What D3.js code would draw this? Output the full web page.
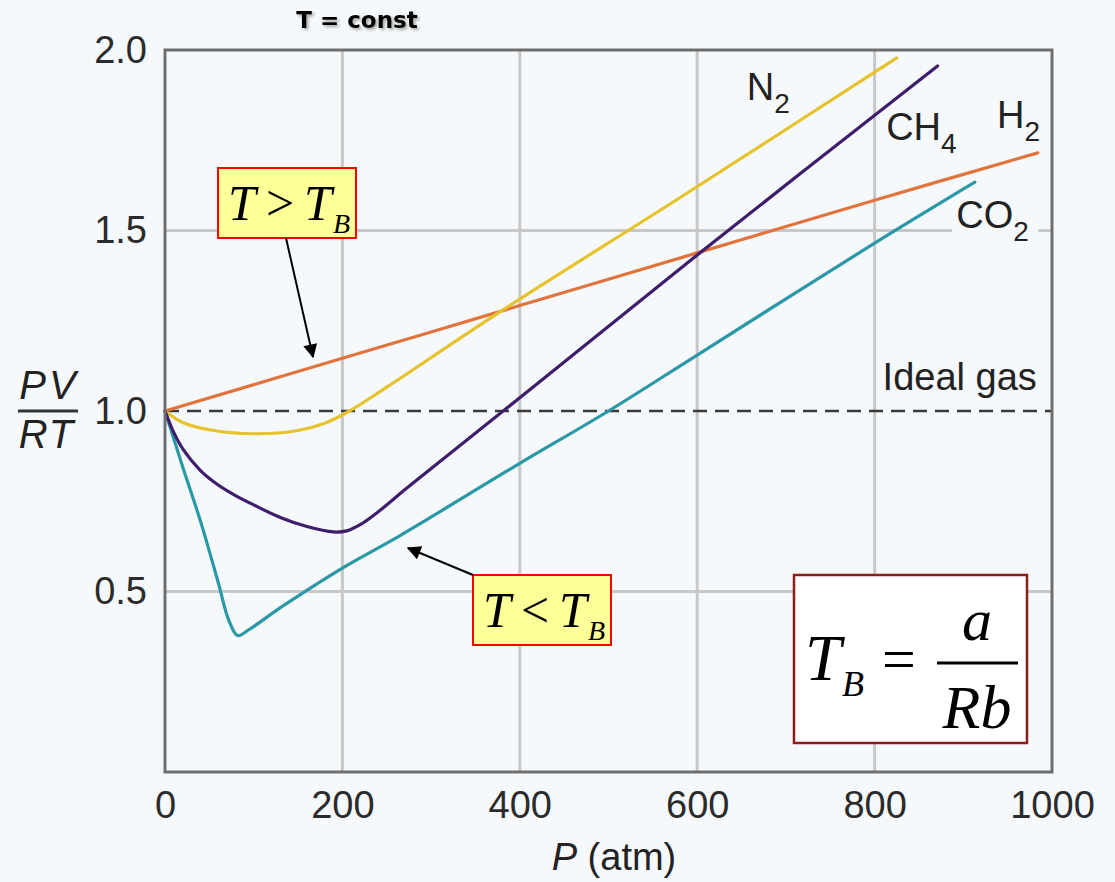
<!DOCTYPE html>
<html>
<head>
<meta charset="utf-8">
<script src="https://cdn.jsdelivr.net/npm/d3@7"></script>
<style>
  html, body { margin: 0; padding: 0; background: #f6f9fb; }
  svg { display: block; }
  .tick text { font-family: "Liberation Sans", Arial, sans-serif; font-size: 38px; fill: #2b2b2b; }
  .sans { font-family: "Liberation Sans", Arial, sans-serif; fill: #222; }
  .serif { font-family: "Liberation Serif", "Times New Roman", serif; fill: #000; }
</style>
</head>
<body>
<svg id="chart" width="1115" height="882"></svg>
<script>
// axis ticks
const pressureTicks = [0, 200, 400, 600, 800, 1000];
const ratioTicks = [0.5, 1.0, 1.5, 2.0];
const gridP = [200, 400, 600, 800];
const gridZ = [0.5, 1.5];

// PV/RT against P (atm)
const h2P = [0, 200, 400, 600, 800, 984];
const h2Z = [1.0, 1.146, 1.292, 1.438, 1.584, 1.715];

const n2P = [0, 20, 50, 100, 150, 180, 208, 250, 381, 580, 825];
const n2Z = [1.0, 0.968, 0.948, 0.937, 0.946, 0.966, 1.0, 1.066, 1.28, 1.59, 1.978];

const co2P = [0, 20, 40, 60, 72, 82, 95, 133, 200, 265, 400, 500, 600, 800, 913];
const co2Z = [1.0, 0.845, 0.695, 0.525, 0.42, 0.378, 0.395, 0.46, 0.565, 0.655, 0.855, 1.0, 1.155, 1.465, 1.634];

const ch4P = [0, 10, 20, 40, 60, 80, 100, 130, 160, 190, 205, 220, 240, 272, 310, 400, 600, 871];
const ch4Z = [1.0, 0.94, 0.895, 0.835, 0.795, 0.765, 0.74, 0.705, 0.68, 0.665, 0.668, 0.685, 0.72, 0.785, 0.86, 1.037, 1.432, 1.956];

const series = [
    { p: h2P, z: h2Z, color: "#e0743c" },
    { p: n2P, z: n2Z, color: "#e6c22c" },
    { p: co2P, z: co2Z, color: "#2a98a6" },
    { p: ch4P, z: ch4Z, color: "#3e1d6c" }
];

const svg = d3.select("#chart");
const x = d3.scaleLinear().domain([0, 1000]).range([165, 1052]);
const y = d3.scaleLinear().domain([0, 2]).range([772, 50]);

// fond
svg.append("rect").attr("width", 1115).attr("height", 882).attr("fill", "#f6f9fb");

const defs = svg.append("defs");
defs.append("filter").attr("id", "shadow")
    .append("feDropShadow").attr("dx", 2).attr("dy", 2).attr("stdDeviation", 1.5)
    .attr("flood-color", "#000").attr("flood-opacity", 0.35);
defs.append("marker").attr("id", "head")
    .attr("viewBox", "0 0 10 10").attr("refX", 9).attr("refY", 5)
    .attr("markerWidth", 8).attr("markerHeight", 7).attr("markerUnits", "strokeWidth")
    .attr("orient", "auto")
    .append("path").attr("d", "M0,0 L10,5 L0,10 z").attr("fill", "#000");

// griglia
svg.append("g").selectAll("line").data(gridP).enter().append("line")
    .attr("x1", d => x(d)).attr("x2", d => x(d))
    .attr("y1", y(2)).attr("y2", y(0))
    .attr("stroke", "#c8c8c8").attr("stroke-width", 3);
svg.append("g").selectAll("line").data(gridZ).enter().append("line")
    .attr("x1", x(0)).attr("x2", x(1000))
    .attr("y1", d => y(d)).attr("y2", d => y(d))
    .attr("stroke", "#c8c8c8").attr("stroke-width", 3);

// ideal gas
svg.append("line")
    .attr("x1", x(0)).attr("x2", x(1000)).attr("y1", y(1)).attr("y2", y(1))
    .attr("stroke", "#3a3a3a").attr("stroke-width", 2.5).attr("stroke-dasharray", "14,8");

// curve
const line = d3.line().x(d => x(d[0])).y(d => y(d[1])).curve(d3.curveCatmullRom.alpha(0.5));
svg.append("g").selectAll("path").data(series).enter().append("path")
    .attr("d", s => line(s.p.map((p, i) => [p, s.z[i]])))
    .attr("fill", "none").attr("stroke", s => s.color).attr("stroke-width", 3.2)
    .attr("stroke-linejoin", "round").attr("stroke-linecap", "round");

// cornice
svg.append("rect")
    .attr("x", x(0)).attr("y", y(2)).attr("width", x(1000) - x(0)).attr("height", y(0) - y(2))
    .attr("fill", "none").attr("stroke", "#6e6e6e").attr("stroke-width", 3);

// assi
const xAxis = svg.append("g").attr("transform", `translate(0,${y(0)})`)
    .call(d3.axisBottom(x).tickValues(pressureTicks).tickSize(0).tickPadding(19).tickFormat(d3.format("d")));
const yAxis = svg.append("g").attr("transform", `translate(${x(0)},0)`)
    .call(d3.axisLeft(y).tickValues(ratioTicks).tickSize(0).tickPadding(18).tickFormat(d3.format(".1f")));
xAxis.select(".domain").remove();
yAxis.select(".domain").remove();

// titolo asse x
const xt = svg.append("text").attr("class", "sans").attr("x", 614).attr("y", 870)
    .attr("text-anchor", "middle").attr("font-size", 38);
xt.append("tspan").attr("font-style", "italic").text("P");
xt.append("tspan").text(" (atm)");

// PV / RT
svg.append("text").attr("class", "sans").attr("x", 49).attr("y", 399)
    .attr("text-anchor", "middle").attr("font-size", 40).attr("letter-spacing", 3)
    .attr("font-style", "italic").text("PV");
svg.append("line").attr("x1", 18).attr("x2", 78).attr("y1", 411).attr("y2", 411)
    .attr("stroke", "#333").attr("stroke-width", 3);
svg.append("text").attr("class", "sans").attr("x", 47).attr("y", 448)
    .attr("text-anchor", "middle").attr("font-size", 40).attr("letter-spacing", 2)
    .attr("font-style", "italic").text("RT");

// T = const
svg.append("text").attr("x", 357).attr("y", 28).attr("text-anchor", "middle")
    .attr("font-family", "'DejaVu Sans', Verdana, sans-serif").attr("font-weight", "bold")
    .attr("font-size", 23).attr("filter", "url(#shadow)").text("T = const");

// etichette delle curve
function gasLabel(px, pz, main, sub, mask) {
    const g = svg.append("g");
    if (mask) {
        g.append("rect").attr("x", x(px) - 4).attr("y", y(pz) - 30)
            .attr("width", 86).attr("height", 48).attr("fill", "#f6f9fb");
    }
    const t = g.append("text").attr("class", "sans").attr("x", x(px)).attr("y", y(pz))
        .attr("font-size", 38);
    t.append("tspan").text(main);
    t.append("tspan").attr("font-size", 28).attr("dy", 13).text(sub);
}
gasLabel(656, 1.861, "N", "2", false);
gasLabel(813, 1.751, "CH", "4", false);
gasLabel(938, 1.784, "H", "2", false);
gasLabel(892, 1.507, "CO", "2", true);

svg.append("text").attr("class", "sans").attr("x", x(809)).attr("y", y(1.058))
    .attr("font-size", 38).text("Ideal gas");

// riquadri gialli T > TB, T < TB
function tbBox(bx, by, sign) {
    const g = svg.append("g");
    g.append("rect").attr("x", bx).attr("y", by).attr("width", 138).attr("height", 70)
        .attr("fill", "#ffff99").attr("stroke", "#ff0000").attr("stroke-width", 2);
    const t = g.append("text").attr("class", "serif").attr("y", by + 52).attr("font-size", 50);
    t.append("tspan").attr("x", bx + 10).attr("font-style", "italic").text("T");
    t.append("tspan").attr("x", bx + 48).text(sign);
    t.append("tspan").attr("x", bx + 86).attr("font-style", "italic").text("T");
    t.append("tspan").attr("x", bx + 115).attr("dy", 13).attr("font-size", 28)
        .attr("font-style", "italic").text("B");
}
tbBox(218, 168, ">");
tbBox(473, 575, "<");

// frecce
svg.append("line").attr("x1", 286).attr("y1", 238).attr("x2", 313).attr("y2", 357)
    .attr("stroke", "#000").attr("stroke-width", 2).attr("marker-end", "url(#head)");
svg.append("line").attr("x1", 473).attr("y1", 575).attr("x2", 408).attr("y2", 548)
    .attr("stroke", "#000").attr("stroke-width", 2).attr("marker-end", "url(#head)");

// T_B = a / Rb
const fb = svg.append("g");
fb.append("rect").attr("x", 794).attr("y", 575).attr("width", 233).attr("height", 168)
    .attr("fill", "#ffffff").attr("stroke", "#8e1a1a").attr("stroke-width", 2.5);
fb.append("text").attr("class", "serif").attr("x", 805).attr("y", 680)
    .attr("font-size", 65).attr("font-style", "italic").text("T");
fb.append("text").attr("class", "serif").attr("x", 842).attr("y", 696)
    .attr("font-size", 36).attr("font-style", "italic").text("B");
fb.append("text").attr("class", "serif").attr("x", 882).attr("y", 679)
    .attr("font-size", 60).text("=");
fb.append("line").attr("x1", 937).attr("x2", 1018).attr("y1", 663).attr("y2", 663)
    .attr("stroke", "#000").attr("stroke-width", 3);
fb.append("text").attr("class", "serif").attr("x", 977).attr("y", 640)
    .attr("text-anchor", "middle").attr("font-size", 60).attr("font-style", "italic").text("a");
fb.append("text").attr("class", "serif").attr("x", 977).attr("y", 728)
    .attr("text-anchor", "middle").attr("font-size", 62).attr("font-style", "italic").text("Rb");
</script>
</body>
</html>
